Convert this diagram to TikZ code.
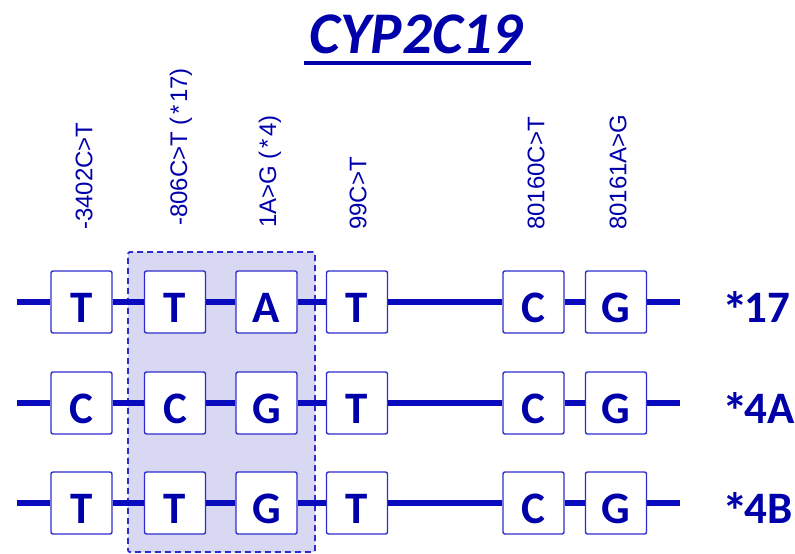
\documentclass[tikz,border=0pt]{standalone}
\usepackage{fontspec}
\setmainfont{Carlito}
\newfontfamily\lblfont{Liberation Sans}
\definecolor{boxblue}{RGB}{45,45,205}
\definecolor{txtblue}{RGB}{0,0,170}
\definecolor{lineblue}{RGB}{10,10,190}
\definecolor{shade}{RGB}{216,216,242}
\newcommand{\astk}{\raisebox{-6pt}{\scalebox{1.15}{*}}\kern-3pt}
\begin{document}
\begin{tikzpicture}[x=1pt,y=-1pt,
  base/.style={draw=boxblue, line width=1.4pt, fill=white, rounded corners=2pt,
    minimum width=61pt, minimum height=62pt, inner sep=0pt,
    text height=40pt, text depth=0pt, text=txtblue,
    font=\fontsize{45}{45}\selectfont\bfseries},
  snp/.style={rotate=90, anchor=west, inner sep=0pt, text=txtblue,
    font=\lblfont\fontsize{24}{24}\selectfont},
  allele/.style={anchor=base west, inner sep=0pt, text=txtblue,
    font=\fontsize{45}{45}\selectfont\bfseries},
  chain/.style={draw=lineblue, line width=6pt},
  hlbox/.style={draw=boxblue, fill=shade, dashed, dash pattern=on 6pt off 4pt,
    line width=1.8pt, rounded corners=2pt, inner sep=0pt},
  titletxt/.style={anchor=base, inner sep=0pt, text=txtblue,
    font=\fontsize{59}{59}\selectfont\bfseries\itshape}]
\useasboundingbox (0,0) rectangle (795,554);
\fill[white] (0,0) rectangle (795,554);
% title
\node[titletxt] (title) at (416,53) {CYP2C19};
\coordinate (ulA) at (304,63);
\coordinate (ulB) at (531,63);
\draw[draw=txtblue, line width=4pt] (ulA) -- (ulB);
% SNP labels
\node[snp] (l1) at (84,230) {-3402C>T};
\node[snp] (l2) at (181,226) {-806C>T (\kern3pt*\kern2pt17)};
\node[snp] (l3) at (270,228) {1A>G (\kern3pt*\kern2pt4)};
\node[snp] (l4) at (358,230) {99C>T};
\node[snp] (l5) at (536,230) {80160C>T};
\node[snp] (l6) at (618,230) {80161A>G};
% highlighted region
\node[hlbox, minimum width=187pt, minimum height=300pt] (hl) at (221.5,402) {};
% rows
\foreach \r/\y/\a/\b/\c/\d/\e/\f/\lab in {1/302/T/T/A/T/C/G/17, 2/403/C/C/G/T/C/G/4A, 3/503/T/T/G/T/C/G/4B}{
  \coordinate (s\r) at (17,\y);
  \coordinate (e\r) at (680,\y);
  \node[base] (b\r1) at (81.5,\y) {\a};
  \node[base] (b\r2) at (175,\y) {\b};
  \node[base] (b\r3) at (266.5,\y) {\c};
  \node[base] (b\r4) at (357,\y) {\d};
  \node[base] (b\r5) at (533.5,\y) {\e};
  \node[base] (b\r6) at (616,\y) {\f};
  \node[allele] (a\r) at (722,\y+20) {\astk\lab};
  \draw[chain] (s\r) -- (b\r1) -- (b\r2) -- (b\r3) -- (b\r4) -- (b\r5) -- (b\r6) -- (e\r);
}
\end{tikzpicture}
\end{document}
